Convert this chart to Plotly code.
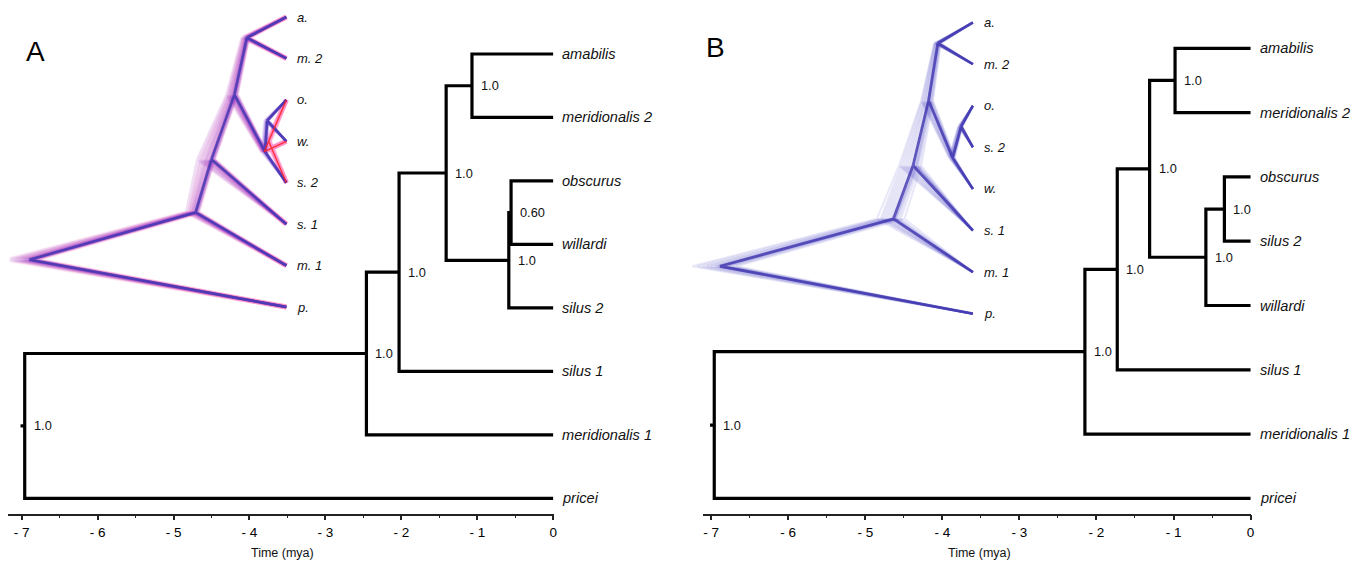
import plotly.graph_objects as go

# ---------------- data ----------------
# main trees: tip labels (top -> bottom)
tips_A = ["amabilis", "meridionalis 2", "obscurus", "willardi", "silus 2",
          "silus 1", "meridionalis 1", "pricei"]
tips_B = ["amabilis", "meridionalis 2", "obscurus", "silus 2", "willardi",
          "silus 1", "meridionalis 1", "pricei"]

# topology (children are tip indices or node names)
children_A = {"am": (0, 1), "ow": (2, 3), "ows": ("ow", 4), "n3": ("am", "ows"),
              "n2": ("n3", 5), "n1": ("n2", 6), "root": ("n1", 7)}
children_A_red = {"am": (0, 1), "os": (2, 4), "osw": ("os", 3), "n3": ("am", "osw"),
                  "n2": ("n3", 5), "n1": ("n2", 6), "root": ("n1", 7)}
children_B = {"am": (0, 1), "os": (2, 3), "osw": ("os", 4), "n3": ("am", "osw"),
              "n2": ("n3", 5), "n1": ("n2", 6), "root": ("n1", 7)}

# node ages (mya) of the summary trees
nodes_A = ["am", "ow", "ows", "n3", "n2", "n1", "root"]
ages_A = [-1.07, -0.555, -0.585, -1.41, -2.03, -2.46, -6.96]
support_A = ["1.0", "0.60", "1.0", "1.0", "1.0", "1.0", "1.0"]

nodes_B = ["am", "os", "osw", "n3", "n2", "n1", "root"]
ages_B = [-0.98, -0.34, -0.58, -1.31, -1.73, -2.15, -6.96]
support_B = ["1.0", "1.0", "1.0", "1.0", "1.0", "1.0", "1.0"]

# inset (DensiTree) tip labels
inset_tips_A = ["a.", "m. 2", "o.", "w.", "s. 2", "s. 1", "m. 1", "p."]
inset_tips_B = ["a.", "m. 2", "o.", "s. 2", "w.", "s. 1", "m. 1", "p."]

# posterior tree samples (node ages, mya)
# panel A, first (blue) topology
sA_root = [-6.96, -6.92, -7.02, -6.88, -7.10, -6.95, -7.25, -6.84, -7.00, -7.45, -6.93, -7.06, -6.80, -7.18, -6.98, -7.60, -6.90, -7.12, -6.86, -7.35]
sA_n1 = [-2.46, -2.44, -2.49, -2.42, -2.53, -2.46, -2.58, -2.40, -2.48, -2.66, -2.45, -2.51, -2.38, -2.56, -2.47, -2.72, -2.43, -2.54, -2.41, -2.62]
sA_n2 = [-2.03, -2.00, -2.08, -1.98, -2.15, -2.04, -2.25, -1.95, -2.06, -2.35, -2.02, -2.12, -1.96, -2.20, -2.05, -2.42, -2.01, -2.18, -1.97, -2.30]
sA_n3 = [-1.41, -1.39, -1.44, -1.36, -1.48, -1.40, -1.53, -1.34, -1.42, -1.58, -1.40, -1.46, -1.32, -1.50, -1.41, -1.62, -1.38, -1.47, -1.35, -1.55]
sA_am = [-1.07, -1.06, -1.09, -1.04, -1.11, -1.07, -1.14, -1.03, -1.08, -1.18, -1.06, -1.10, -1.02, -1.12, -1.07, -1.21, -1.05, -1.11, -1.04, -1.16]
sA_ows = [-0.58, -0.57, -0.59, -0.56, -0.61, -0.58, -0.63, -0.55, -0.59, -0.66, -0.57, -0.60, -0.54, -0.62, -0.58, -0.68, -0.57, -0.61, -0.55, -0.64]
sA_ow = [-0.52, -0.51, -0.53, -0.50, -0.54, -0.52, -0.56, -0.49, -0.53, -0.58, -0.51, -0.54, -0.48, -0.55, -0.52, -0.60, -0.51, -0.54, -0.49, -0.57]
# panel A, second (red) topology
rA_root = [-6.96, -6.90, -7.15, -6.82, -7.30, -7.55, -6.95, -7.05, -7.20, -6.86, -7.40, -6.98]
rA_n1 = [-2.46, -2.43, -2.55, -2.39, -2.60, -2.68, -2.45, -2.50, -2.57, -2.41, -2.63, -2.47]
rA_n2 = [-2.03, -2.00, -2.14, -1.96, -2.24, -2.38, -2.02, -2.09, -2.18, -1.98, -2.30, -2.04]
rA_n3 = [-1.41, -1.38, -1.48, -1.35, -1.52, -1.60, -1.40, -1.44, -1.50, -1.36, -1.56, -1.41]
rA_am = [-1.07, -1.05, -1.12, -1.03, -1.14, -1.19, -1.06, -1.09, -1.13, -1.04, -1.16, -1.07]
rA_osw = [-0.60, -0.58, -0.62, -0.57, -0.63, -0.66, -0.59, -0.61, -0.62, -0.58, -0.64, -0.60]
rA_os = [-0.48, -0.46, -0.49, -0.45, -0.50, -0.53, -0.47, -0.48, -0.50, -0.46, -0.51, -0.47]
# panel B (single topology)
sB_root = [-6.85, -6.70, -6.95, -6.60, -7.10, -6.85, -7.30, -6.50, -6.90, -7.60, -6.75, -7.00, -6.40, -7.20, -6.65, -6.90, -7.45, -6.80]
sB_n1 = [-2.15, -2.10, -2.25, -2.00, -2.35, -2.12, -2.45, -1.95, -2.20, -2.60, -2.08, -2.30, -1.85, -2.40, -2.05, -2.18, -2.50, -2.10]
sB_n2 = [-1.62, -1.55, -1.70, -1.50, -1.80, -1.58, -1.90, -1.45, -1.65, -2.00, -1.52, -1.75, -1.40, -1.85, -1.50, -1.62, -1.95, -1.55]
sB_n3 = [-1.20, -1.18, -1.25, -1.12, -1.30, -1.20, -1.35, -1.10, -1.22, -1.40, -1.15, -1.28, -1.08, -1.32, -1.14, -1.21, -1.38, -1.17]
sB_am = [-0.95, -0.93, -0.98, -0.90, -1.00, -0.94, -1.03, -0.88, -0.96, -1.05, -0.92, -0.99, -0.87, -1.02, -0.91, -0.95, -1.04, -0.93]
sB_osw = [-0.55, -0.54, -0.57, -0.52, -0.60, -0.55, -0.62, -0.50, -0.56, -0.65, -0.53, -0.58, -0.49, -0.61, -0.52, -0.55, -0.63, -0.54]
sB_os = [-0.32, -0.31, -0.34, -0.30, -0.36, -0.32, -0.38, -0.29, -0.33, -0.40, -0.31, -0.35, -0.28, -0.37, -0.30, -0.33, -0.39, -0.31]

tick_vals = [-7, -6, -5, -4, -3, -2, -1, 0]
tick_text = ["- 7", "- 6", "- 5", "- 4", "- 3", "- 2", "- 1", "0"]
minor_vals = [-6.5, -5.5, -4.5, -3.5, -2.5, -1.5, -0.5]

FONT = "Liberation Sans, Arial, Helvetica, sans-serif"
BLUE = "#4238b0"
RED = "#ff2020"

# page offset of the plot div (body margin) -> work in page pixels
OFF = 8
W, H = 1372 - OFF, 565 - OFF


def px(xp):
    return (xp - OFF) / W


def py(yp):
    return 1 - (yp - OFF) / H


# ---------------- helpers ----------------
def node_y(children, override=None):
    ys = dict(override or {})
    def f(n):
        if isinstance(n, int):
            return float(n)
        if n in ys:
            return ys[n]
        a, b = children[n]
        ys[n] = (f(a) + f(b)) / 2.0
        return ys[n]
    for n in children:
        f(n)
    return ys


def rect_tree(children, ages):
    ys = node_y(children)
    X, Y = [], []
    for n, (a, b) in children.items():
        t = ages[n]
        ya = float(a) if isinstance(a, int) else ys[a]
        yb = float(b) if isinstance(b, int) else ys[b]
        ta = 0.0 if isinstance(a, int) else ages[a]
        tb = 0.0 if isinstance(b, int) else ages[b]
        X += [ta, t, t, tb, None]
        Y += [ya, ya, yb, yb, None]
    X += [ages["root"] - 0.055, ages["root"], None]
    Y += [ys["root"], ys["root"], None]
    return X, Y, ys


def diag_tree(children, ages, ys, only=None):
    X, Y = [], []
    for n, (a, b) in children.items():
        if only is not None and n not in only:
            continue
        t = ages[n]
        for c in (a, b):
            yc = float(c) if isinstance(c, int) else ys[c]
            tc = 0.0 if isinstance(c, int) else ages[c]
            X += [t, tc, None]
            Y += [ys[n], yc, None]
    return X, Y


fig = go.Figure()
annotations = []

# ---------------- main trees ----------------
panels = [
    ("x", "y", tips_A, children_A, nodes_A, ages_A, support_A),
    ("x2", "y2", tips_B, children_B, nodes_B, ages_B, support_B),
]
for xr, yr, tips, ch, nodes, ages, sup in panels:
    age_map = dict(zip(nodes, ages))
    X, Y, ys = rect_tree(ch, age_map)
    fig.add_trace(go.Scatter(x=X, y=Y, mode="lines", xaxis=xr, yaxis=yr,
                             line=dict(color="#000000", width=3.2),
                             hoverinfo="skip", showlegend=False))
    for i, name in enumerate(tips):
        annotations.append(dict(x=0, y=i, xref=xr, yref=yr, text="<i>%s</i>" % name,
                                showarrow=False, xanchor="left", yanchor="middle",
                                xshift=7, font=dict(family=FONT, size=14.6, color="#111")))
    for n, s in zip(nodes, sup):
        annotations.append(dict(x=age_map[n], y=ys[n], xref=xr, yref=yr, text=s,
                                showarrow=False, xanchor="left", yanchor="middle",
                                xshift=7, font=dict(family=FONT, size=12.8, color="#111")))

# ---------------- DensiTree insets ----------------
names7_blue = ["root", "n1", "n2", "n3", "am", "ows", "ow"]
names7_red = ["root", "n1", "n2", "n3", "am", "osw", "os"]
ysA = node_y(children_A)
ysA_red = node_y(children_A_red, {"root": ysA["root"], "n1": ysA["n1"], "n2": ysA["n2"],
                                  "n3": ysA["n3"], "osw": ysA["ows"]})
ysB = node_y(children_B)


def add_cloud(xr, yr, ch, ys, names, samples, color, width, opacity):
    for k in range(len(samples[0])):
        ages = {nm: s[k] for nm, s in zip(names, samples)}
        X, Y = diag_tree(ch, ages, ys)
        fig.add_trace(go.Scatter(x=X, y=Y, mode="lines", xaxis=xr, yaxis=yr,
                                 line=dict(color=color, width=width), opacity=opacity,
                                 hoverinfo="skip", showlegend=False))


def add_core(xr, yr, ch, ys, names, samples, color, width, opacity, only=None):
    ages = {nm: s[0] for nm, s in zip(names, samples)}
    X, Y = diag_tree(ch, ages, ys, only)
    fig.add_trace(go.Scatter(x=X, y=Y, mode="lines", xaxis=xr, yaxis=yr,
                             line=dict(color=color, width=width), opacity=opacity,
                             hoverinfo="skip", showlegend=False))


samples_A_red = [rA_root, rA_n1, rA_n2, rA_n3, rA_am, rA_osw, rA_os]
samples_A_blue = [sA_root, sA_n1, sA_n2, sA_n3, sA_am, sA_ows, sA_ow]
samples_B = [sB_root, sB_n1, sB_n2, sB_n3, sB_am, sB_osw, sB_os]

# panel A inset: pink halo (second topology) + violet cloud + cores
add_cloud("x3", "y3", children_A_red, ysA_red, names7_red, samples_A_red, "#ff4fa8", 5.0, 0.07)
add_cloud("x3", "y3", children_A, ysA, names7_blue, samples_A_blue, "#7a3cd0", 2.4, 0.10)
add_core("x3", "y3", children_A, ysA, names7_blue, samples_A_blue, BLUE, 2.6, 0.8)
add_core("x3", "y3", children_A_red, ysA_red, names7_red, samples_A_red, RED, 1.4, 0.85,
         only=["osw", "os"])

# panel B inset
add_cloud("x4", "y4", children_B, ysB, names7_red, samples_B, "#4a44c0", 2.0, 0.12)
add_core("x4", "y4", children_B, ysB, names7_red, samples_B, BLUE, 2.8, 0.78)

for xr, yr, labs in (("x3", "y3", inset_tips_A), ("x4", "y4", inset_tips_B)):
    for i, lab in enumerate(labs):
        annotations.append(dict(x=0, y=i, xref=xr, yref=yr, text="<i>%s</i>" % lab,
                                showarrow=False, xanchor="left", yanchor="middle",
                                xshift=9, font=dict(family=FONT, size=13, color="#111")))

# panel letters and axis titles
for xp, yp, txt, sz in ((36, 51, "A", 28), (717, 47, "B", 28),
                        (283, 553, "Time (mya)", 12.5), (982, 553, "Time (mya)", 12.5)):
    annotations.append(dict(x=px(xp), y=py(yp), xref="paper", yref="paper", text=txt,
                            showarrow=False, xanchor="center", yanchor="middle",
                            font=dict(family=FONT, size=sz, color="#000" if sz > 20 else "#111")))


def main_xaxis(rng, dom, anchor):
    return dict(range=rng, domain=dom, anchor=anchor, showline=True, linecolor="#222",
                linewidth=1.5, ticks="outside", ticklen=5, tickwidth=1.5, tickcolor="#222",
                tickmode="array", tickvals=tick_vals, ticktext=tick_text,
                tickfont=dict(family=FONT, size=13.5, color="#000"),
                minor=dict(ticks="outside", ticklen=2.5, tickwidth=1.2, tickcolor="#222",
                           tickmode="array", tickvals=minor_vals),
                showgrid=False, zeroline=False, fixedrange=True)


def hidden(rng, dom, anchor):
    return dict(range=rng, domain=dom, anchor=anchor, visible=False, showgrid=False,
                zeroline=False, fixedrange=True)


y_dom = [py(513.7), py(OFF)]

fig.update_layout(
    width=W, height=H, autosize=False,
    margin=dict(l=0, r=0, t=0, b=0),
    paper_bgcolor="white", plot_bgcolor="rgba(0,0,0,0)",
    showlegend=False,
    xaxis=main_xaxis([-7.18, 0.005], [px(8), px(554.8)], "y"),
    yaxis=dict(range=[(513.7 - 54) / 63.47, (8 - 54) / 63.47], domain=y_dom, visible=False,
               anchor="x", fixedrange=True),
    xaxis2=main_xaxis([-7.10, 0.005], [px(705), px(1253.7)], "y2"),
    yaxis2=dict(range=[(513.7 - 48.3) / 64.3, (8 - 48.3) / 64.3], domain=y_dom, visible=False,
                anchor="x2", fixedrange=True),
    xaxis3=hidden([-7.5, 0.1], [px(287 - 7.5 * 37), px(287 + 0.1 * 37)], "y3"),
    yaxis3=hidden([7.3, -0.2], [py(17 + 7.3 * 41.43), py(17 - 0.2 * 41.43)], "x3"),
    xaxis4=hidden([-7.7, 0.1], [px(975 - 7.7 * 37), px(975 + 0.1 * 37)], "y4"),
    yaxis4=hidden([7.3, -0.3], [py(22.5 + 7.3 * 41.6), py(22.5 - 0.3 * 41.6)], "x4"),
    annotations=annotations,
)

fig.write_html("out.html")
